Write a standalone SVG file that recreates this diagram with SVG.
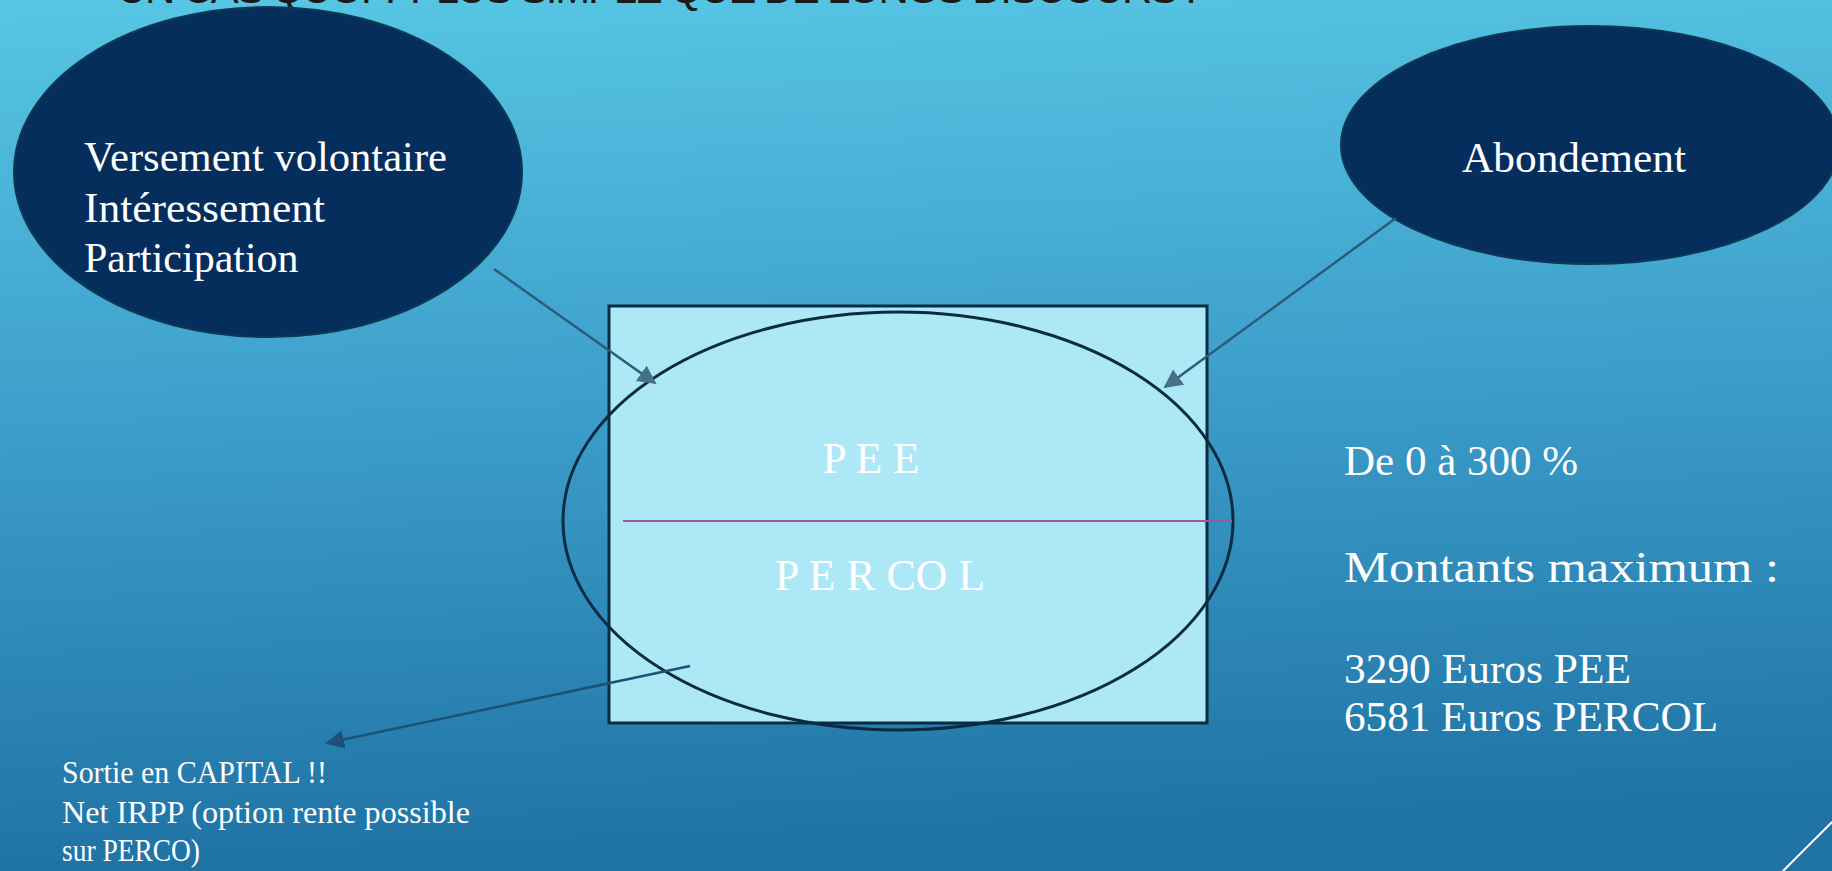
<svg xmlns="http://www.w3.org/2000/svg" width="1832" height="871" viewBox="0 0 1832 871">
  <defs>
    <linearGradient id="bg" x1="0" y1="0" x2="0.08" y2="1">
      <stop offset="0" stop-color="#57c6e4"/>
      <stop offset="0.5" stop-color="#3c9dca"/>
      <stop offset="1" stop-color="#1f73a4"/>
    </linearGradient>
    <marker id="arr" viewBox="0 0 10 10" refX="9" refY="5" markerWidth="7.5" markerHeight="7.5" orient="auto" markerUnits="strokeWidth">
      <path d="M0,0 L10,5 L0,10 Z" fill="#46708c"/>
    </marker>
    <marker id="arr2" viewBox="0 0 10 10" refX="9" refY="5" markerWidth="7.5" markerHeight="7.5" orient="auto" markerUnits="strokeWidth">
      <path d="M0,0 L10,5 L0,10 Z" fill="#1d5276"/>
    </marker>
  </defs>
  <style>
    .bubble { fill: #052e5d; stroke: #0b3a52; stroke-width: 2; }
    .serif { font-family: "Liberation Serif", "DejaVu Serif", serif; fill: #ffffff; }
    .conn { stroke-width: 2.5; fill: none; }
  </style>

  <rect x="0" y="0" width="1832" height="871" fill="url(#bg)"/>

  <text x="117" y="3" font-family="'Liberation Sans', 'DejaVu Sans', sans-serif" font-size="42" fill="#1a1a1a" textLength="1080" lengthAdjust="spacing">UN CAS QUOI ? PLUS SIMPLE QUE DE LONGS DISCOURS !</text>

  <g id="box">
    <rect x="609" y="306" width="598" height="417" fill="#ade8f7" stroke="#0a2b40" stroke-width="3"/>
    <ellipse cx="898" cy="521" rx="335" ry="209" fill="none" stroke="#0a2b40" stroke-width="3"/>
    <line x1="623" y1="521" x2="1232" y2="521" stroke="#9a5c98" stroke-width="2"/>
    <text class="serif" x="871" y="473" font-size="44" text-anchor="middle" textLength="97" lengthAdjust="spacingAndGlyphs">P E E</text>
    <text class="serif" x="880" y="590" font-size="44" text-anchor="middle" textLength="210" lengthAdjust="spacingAndGlyphs">P E R CO L</text>
  </g>

  <g id="left-bubble">
    <ellipse class="bubble" cx="268" cy="172" rx="254" ry="165"/>
    <text class="serif" x="84" y="171" font-size="42" textLength="363" lengthAdjust="spacingAndGlyphs">Versement volontaire</text>
    <text class="serif" x="84" y="222" font-size="42" textLength="241" lengthAdjust="spacingAndGlyphs">Intéressement</text>
    <text class="serif" x="84" y="272" font-size="42">Participation</text>
  </g>

  <g id="right-bubble">
    <ellipse class="bubble" cx="1590" cy="145" rx="249" ry="119"/>
    <text class="serif" x="1574" y="172" font-size="42" text-anchor="middle" textLength="224" lengthAdjust="spacingAndGlyphs">Abondement</text>
  </g>

  <g id="right-text">
    <text class="serif" x="1344" y="475" font-size="43">De 0 à 300 %</text>
    <text class="serif" x="1344" y="582" font-size="44" textLength="435" lengthAdjust="spacingAndGlyphs">Montants maximum :</text>
    <text class="serif" x="1344" y="683" font-size="43" textLength="287" lengthAdjust="spacingAndGlyphs">3290 Euros PEE</text>
    <text class="serif" x="1344" y="731" font-size="43" textLength="374" lengthAdjust="spacingAndGlyphs">6581 Euros PERCOL</text>
  </g>

  <g id="exit-text">
    <text class="serif" x="62" y="783" font-size="32" textLength="265" lengthAdjust="spacingAndGlyphs">Sortie en CAPITAL !!</text>
    <text class="serif" x="62" y="823" font-size="32" textLength="408" lengthAdjust="spacingAndGlyphs">Net IRPP (option rente possible</text>
    <text class="serif" x="62" y="861" font-size="32" textLength="138" lengthAdjust="spacingAndGlyphs">sur PERCO)</text>
  </g>

  <g id="connectors">
    <line class="conn" x1="494" y1="269" x2="655" y2="383" stroke="#2b5c7a" marker-end="url(#arr)"/>
    <line class="conn" x1="1396" y1="218" x2="1165" y2="387" stroke="#2b5c7a" marker-end="url(#arr)"/>
    <line class="conn" x1="690" y1="666" x2="327" y2="743" stroke="#1d5276" marker-end="url(#arr2)"/>
  </g>

  <line x1="1783" y1="871" x2="1832" y2="822" stroke="#ffffff" stroke-width="2"/>
</svg>
